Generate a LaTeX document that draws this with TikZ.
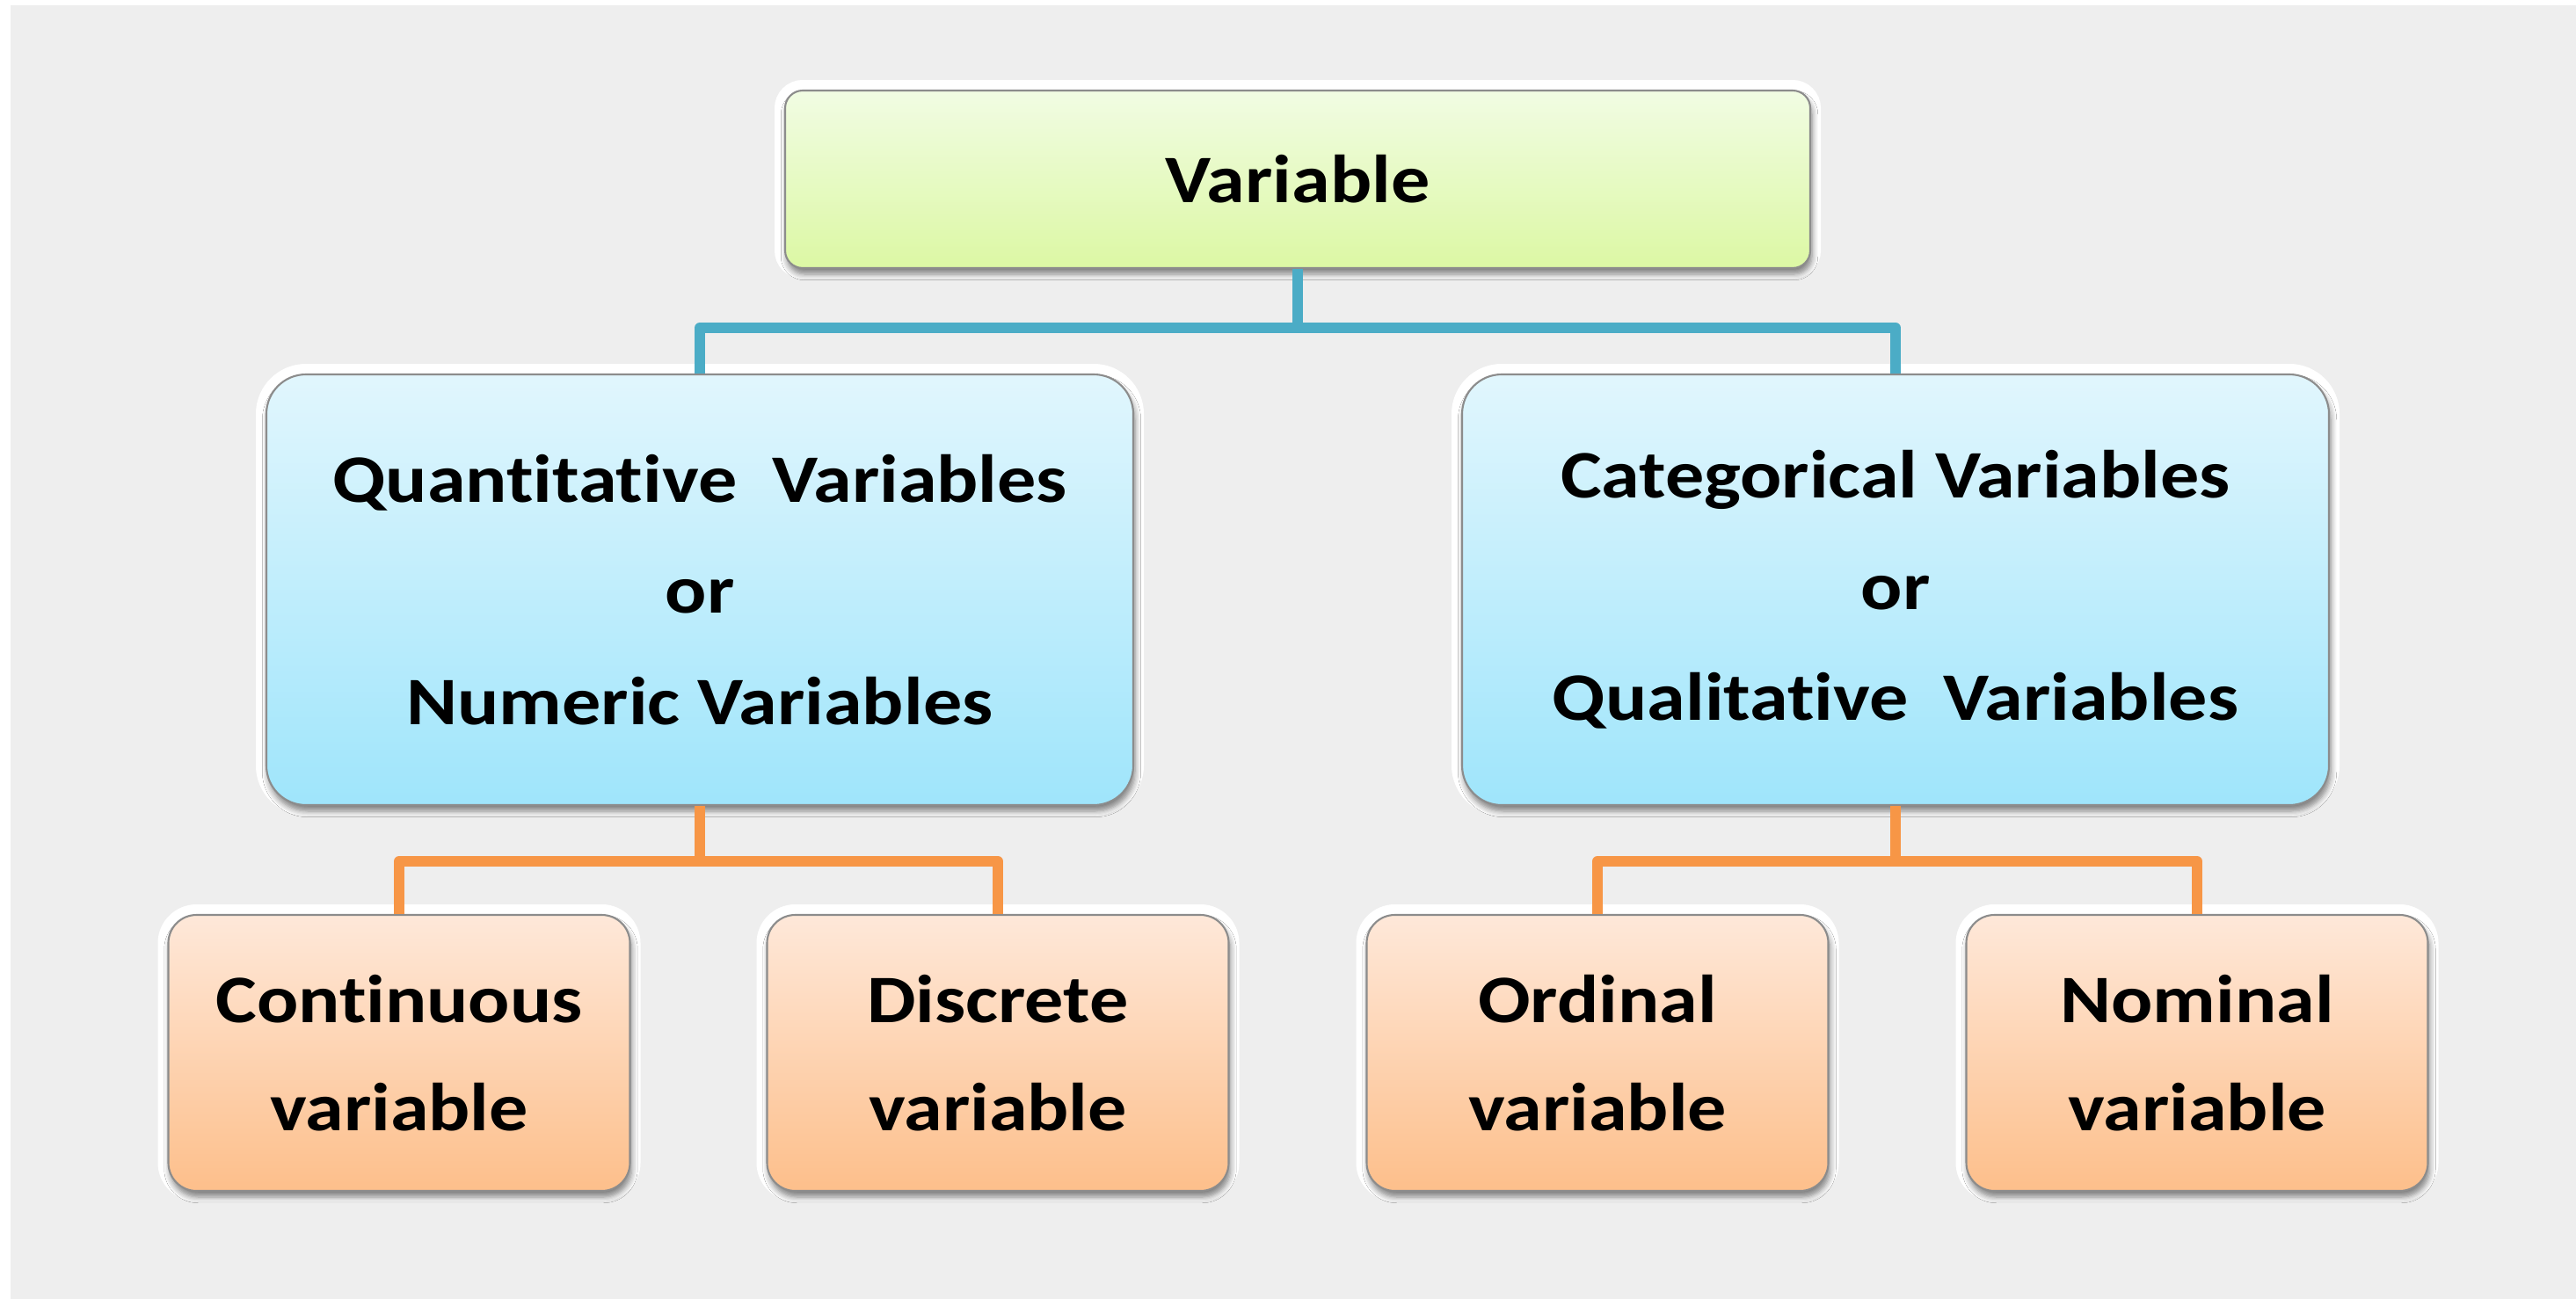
\documentclass[tikz,border=0pt]{standalone}
\usepackage{fontspec}
\setmainfont{Carlito}[Ligatures=NoCommon, FakeStretch=1.14]
\usetikzlibrary{shadows.blur}

\definecolor{backgray}{HTML}{EEEEEE}
\definecolor{linkblue}{HTML}{4BACC6}
\definecolor{linkorange}{HTML}{F79646}
\definecolor{rootTop}{HTML}{F1FCE3}
\definecolor{rootBot}{HTML}{DCF8A4}
\definecolor{kindTop}{HTML}{E1F6FD}
\definecolor{kindBot}{HTML}{9FE5FB}
\definecolor{leafTop}{HTML}{FEE8D9}
\definecolor{leafBot}{HTML}{FDBF8B}

\tikzset{
  box/.style={rectangle, draw=black!45, line width=0.6pt, align=center, inner sep=0pt,
    font=\fontsize{22}{35}\selectfont\bfseries, text=black,
    preaction={draw=white, line width=0.24cm},
    blur shadow={shadow xshift=0.02cm, shadow yshift=-0.07cm, shadow blur steps=6, shadow opacity=50}},
  topbox/.style={box, rounded corners=0.2cm, minimum width=11.66cm, minimum height=2.02cm,
    top color=rootTop, bottom color=rootBot},
  midbox/.style={box, rounded corners=0.45cm, minimum width=9.86cm, minimum height=4.90cm,
    font=\fontsize{22}{36}\selectfont\bfseries,
    top color=kindTop, bottom color=kindBot},
  leafbox/.style={box, rounded corners=0.32cm, minimum width=5.25cm, minimum height=3.14cm,
    top color=leafTop, bottom color=leafBot},
  blueline/.style={draw=linkblue, line width=0.12cm, line join=round},
  orangeline/.style={draw=linkorange, line width=0.12cm, line join=round}
}

\begin{document}
\begin{tikzpicture}
  % page and grey backdrop
  \fill[white] (0,0) rectangle (29.30,-14.78);
  \fill[backgray] (0.12,-0.06) rectangle (29.30,-14.78);

  % root
  \node[topbox] (var) at (14.76,-2.04) {Variable};

  % two kinds
  \node[midbox] (quant) at (7.96,-6.71) {Quantitative\ \ Variables\\or\\Numeric Variables};
  \node[midbox] (categ) at (21.56,-6.71) {Categorical Variables\\or\\Qualitative\ \ Variables};

  % leaves
  \node[leafbox] (cont) at (4.54,-11.98) {Continuous\\variable};
  \node[leafbox] (disc) at (11.35,-11.98) {Discrete\\variable};
  \node[leafbox] (ord) at (18.17,-11.98) {Ordinal\\variable};
  \node[leafbox] (nom) at (24.99,-11.98) {Nominal\\variable};

  % links
  \draw[blueline] (var.south) -- ++(0,-0.67) -| (quant.north);
  \draw[blueline] (var.south) -- ++(0,-0.67) -| (categ.north);
  \draw[orangeline] (quant.south) -- ++(0,-0.63) -| (cont.north);
  \draw[orangeline] (quant.south) -- ++(0,-0.63) -| (disc.north);
  \draw[orangeline] (categ.south) -- ++(0,-0.63) -| (ord.north);
  \draw[orangeline] (categ.south) -- ++(0,-0.63) -| (nom.north);
\end{tikzpicture}
\end{document}
